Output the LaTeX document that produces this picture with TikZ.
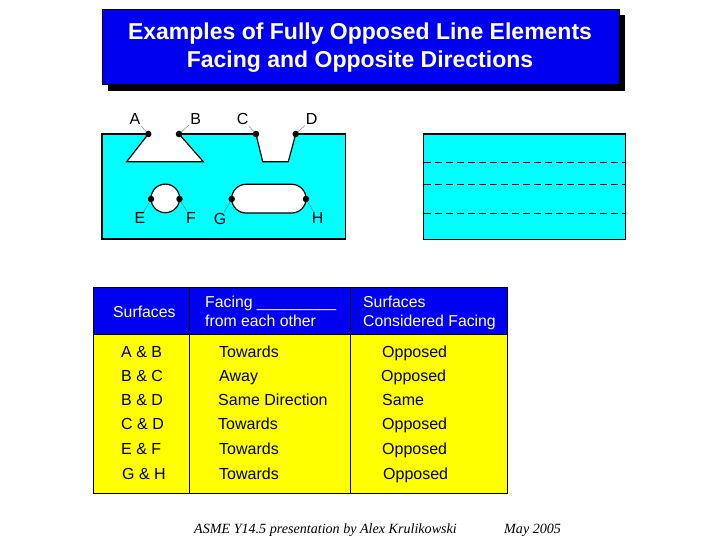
\documentclass[tikz,border=0pt]{standalone}
\usepackage{fontspec}
\setmainfont{Liberation Sans}
\newfontfamily\footfont{Liberation Serif}
\usetikzlibrary{positioning}
\definecolor{titleblue}{HTML}{0000F0}
\definecolor{partcyan}{HTML}{00FFFF}
\definecolor{tableyellow}{HTML}{FFFF00}
\tikzset{
  titletext/.style={white,font=\fontsize{23}{28}\selectfont\bfseries,align=center},
  headtext/.style={anchor=base west,text=white,font=\fontsize{15.8}{19}\selectfont,align=left,inner sep=0pt},
  celltext/.style={anchor=base west,font=\fontsize{16}{19}\selectfont,inner sep=0pt},
  partlabel/.style={font=\fontsize{16}{18}\selectfont,inner sep=1pt},
  pointdot/.style={circle,fill=black,inner sep=0pt,minimum size=6.5pt},
  leader/.style={draw=black!60,line width=.35pt},
  foottext/.style={anchor=base west,font=\footfont\itshape\fontsize{14.1}{16}\selectfont,inner sep=0pt}
}
\begin{document}
\begin{tikzpicture}[x=1pt,y=-1pt]
\useasboundingbox (0,0) rectangle (720,540);
% title
\fill[black] (108,15) rectangle (625,91);
\filldraw[fill=titleblue,draw=black,line width=.5pt] (102,9) rectangle (619,84);
\node[titletext] (title) at (360,47.5) {Examples of Fully Opposed Line Elements\\Facing and Opposite Directions};

% part with the cut outs
\filldraw[fill=partcyan,draw=black,line width=1.2pt] (102,134) rectangle (345.5,239);
\filldraw[fill=white,draw=black,line width=1.2pt] (148.3,134) -- (126.7,161.7) -- (203.3,161.7) -- (179,134);
\draw[white,line width=1.6pt] (149,134) -- (178.5,134);
\filldraw[fill=white,draw=black,line width=1.2pt] (256,134) -- (262.7,161.7) -- (288.3,161.7) -- (295.7,134);
\draw[white,line width=1.6pt] (256.6,134) -- (295.1,134);
\filldraw[fill=white,draw=black,line width=1.2pt] (165.3,198.4) circle (14.3);
\filldraw[fill=white,draw=black,line width=1.2pt] (246,184.3) -- (291.7,184.3) arc (-90:90:14.35) -- (246,213) arc (90:270:14.35) -- cycle;

\node[pointdot] (ptA) at (148.3,134) {};
\node[pointdot] (ptB) at (179,134) {};
\node[pointdot] (ptC) at (256,134) {};
\node[pointdot] (ptD) at (295.7,134) {};
\node[pointdot] (ptE) at (151,199) {};
\node[pointdot] (ptF) at (179.5,199) {};
\node[pointdot] (ptG) at (231.7,199) {};
\node[pointdot] (ptH) at (306,199) {};
\node[partlabel] (lblA) at (135,119.3) {A};
\node[partlabel] (lblB) at (195.7,119) {B};
\node[partlabel] (lblC) at (242.7,119.3) {C};
\node[partlabel] (lblD) at (311.7,119.3) {D};
\node[partlabel] (lblE) at (140,218.3) {E};
\node[partlabel] (lblF) at (191,218.3) {F};
\node[partlabel] (lblG) at (220,219.3) {G};
\node[partlabel] (lblH) at (317.7,218.3) {H};
\draw[leader] (lblA) -- (ptA);
\draw[leader] (lblB) -- (ptB);
\draw[leader] (lblC) -- (ptC);
\draw[leader] (lblD) -- (ptD);
\draw[leader] (lblE) -- (ptE);
\draw[leader] (lblF) -- (ptF);
\draw[leader] (lblG) -- (ptG);
\draw[leader] (lblH) -- (ptH);

% side view
\filldraw[fill=partcyan,draw=black,line width=1.2pt] (423.7,134) rectangle (625.7,239.3);
\draw[dash pattern=on 7pt off 4pt,line width=.6pt] (423.7,162.3) -- (625.7,162.3);
\draw[dash pattern=on 7pt off 4pt,line width=.6pt] (423.7,184.3) -- (625.7,184.3);
\draw[dash pattern=on 7pt off 4pt,line width=.6pt] (423.7,213.3) -- (625.7,213.3);

% table
\fill[titleblue] (93,287.5) rectangle (507,334);
\fill[tableyellow] (93,334) rectangle (507,493);
\draw[line width=1pt] (93,287.5) rectangle (507,493);
\draw[line width=1pt] (93,334) -- (507,334);
\draw[line width=1pt] (189.7,287.5) -- (189.7,493);
\draw[line width=1pt] (350.7,287.5) -- (350.7,493);

\node[headtext] (headA) at (113,317.5) {Surfaces};
\node[headtext] (headB) at (205,307) {Facing \_\_\_\_\_\_\_\_\_};
\node[headtext] (headBb) at (205,326) {from each other};
\node[headtext] (headC) at (363,307) {Surfaces};
\node[headtext] (headCb) at (363,326) {Considered Facing};

\node[celltext] (surfA) at (121,357.5) {A \& B};
\node[celltext] (surfB) at (121,381.5) {B \& C};
\node[celltext] (surfC) at (121,405.5) {B \& D};
\node[celltext] (surfD) at (121,429.5) {C \& D};
\node[celltext] (surfE) at (121,454.5) {E \& F};
\node[celltext] (surfF) at (122,479.5) {G \& H};
\node[celltext] (faceA) at (219,357.5) {Towards};
\node[celltext] (faceB) at (219,381.5) {Away};
\node[celltext] (faceC) at (218,405.5) {Same Direction};
\node[celltext] (faceD) at (218,429.5) {Towards};
\node[celltext] (faceE) at (219,454.5) {Towards};
\node[celltext] (faceF) at (219,479.5) {Towards};
\node[celltext] (consA) at (382,357.5) {Opposed};
\node[celltext] (consB) at (381,381.5) {Opposed};
\node[celltext] (consC) at (382,405.5) {Same};
\node[celltext] (consD) at (382,429.5) {Opposed};
\node[celltext] (consE) at (382,454.5) {Opposed};
\node[celltext] (consF) at (383,479.5) {Opposed};

% footer
\node[foottext] (footA) at (194,533) {ASME Y14.5 presentation by Alex Krulikowski};
\node[foottext] (footB) at (504,533) {May 2005};
\end{tikzpicture}
\end{document}
